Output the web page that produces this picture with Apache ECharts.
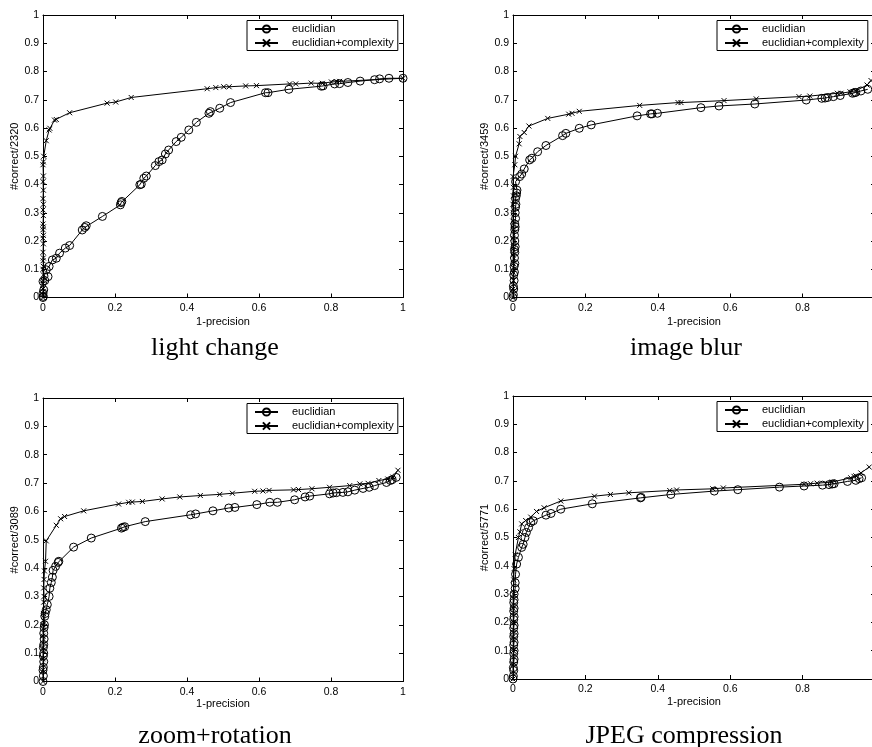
<!DOCTYPE html>
<html><head><meta charset="utf-8">
<script src="https://cdn.jsdelivr.net/npm/echarts@6/dist/echarts.min.js"></script>
<style>html,body{margin:0;padding:0;background:#fff}#c{width:872px;height:747px}</style>
</head><body><div id="c"></div>
<script>
// ---- data ----
const captions = ['light change', 'image blur', 'zoom+rotation', 'JPEG compression'];
const yNames = ['#correct/2320', '#correct/3459', '#correct/3089', '#correct/5771'];
const xName = '1-precision';
const seriesNames = ['euclidian', 'euclidian+complexity'];
const xTickStep = 0.2;
const yTickStep = 0.1;

const lightEuc = [[0,0],[0.001,0.004],[0,0.015],[0.002,0.027],[0,0.057],[0.005,0.06],[0.014,0.074],[0.009,0.098],[0.017,0.11],[0.026,0.133],[0.037,0.139],[0.046,0.157],[0.062,0.175],[0.074,0.184],[0.109,0.239],[0.116,0.248],[0.12,0.254],[0.165,0.287],[0.215,0.328],[0.217,0.336],[0.219,0.34],[0.269,0.399],[0.273,0.401],[0.28,0.422],[0.287,0.43],[0.312,0.467],[0.322,0.481],[0.331,0.487],[0.34,0.508],[0.349,0.522],[0.37,0.552],[0.384,0.567],[0.405,0.593],[0.426,0.62],[0.461,0.652],[0.465,0.658],[0.491,0.67],[0.521,0.69],[0.618,0.725],[0.625,0.725],[0.683,0.737],[0.773,0.748],[0.778,0.749],[0.81,0.756],[0.824,0.757],[0.847,0.761],[0.881,0.766],[0.921,0.771],[0.935,0.774],[0.961,0.776],[1.0,0.776]];
const lightCx = [[0,0],[0,0.01],[0.001,0.02],[0,0.03],[0.001,0.05],[0,0.06],[0.001,0.08],[0,0.1],[0.001,0.11],[0,0.13],[0.001,0.14],[0,0.16],[0.001,0.19],[0,0.21],[0.001,0.22],[0,0.24],[0.001,0.25],[0,0.26],[0.001,0.29],[0,0.31],[0.001,0.33],[0,0.35],[0.001,0.38],[0,0.41],[0.001,0.43],[0,0.47],[0.001,0.48],[0.002,0.5],[0.009,0.555],[0.017,0.593],[0.019,0.599],[0.032,0.628],[0.037,0.63],[0.074,0.654],[0.178,0.688],[0.202,0.692],[0.245,0.708],[0.456,0.739],[0.48,0.743],[0.502,0.746],[0.517,0.746],[0.563,0.749],[0.593,0.75],[0.685,0.756],[0.702,0.756],[0.745,0.759],[0.776,0.758],[0.801,0.763],[0.815,0.764],[0.824,0.765],[1.0,0.776]];

const blurEuc = [[0,0],[0.001,0.01],[0.002,0.03],[0.001,0.04],[0.003,0.06],[0.002,0.08],[0.004,0.09],[0.003,0.11],[0.005,0.12],[0.004,0.14],[0.005,0.16],[0.004,0.17],[0.006,0.18],[0.005,0.2],[0.004,0.22],[0.005,0.24],[0.006,0.25],[0.005,0.26],[0.007,0.28],[0.006,0.3],[0.007,0.32],[0.008,0.33],[0.007,0.35],[0.009,0.36],[0.01,0.37],[0.011,0.38],[0.007,0.41],[0.0185,0.428],[0.024,0.437],[0.031,0.455],[0.046,0.487],[0.052,0.493],[0.068,0.516],[0.091,0.538],[0.137,0.573],[0.146,0.581],[0.183,0.599],[0.216,0.611],[0.343,0.643],[0.38,0.65],[0.384,0.65],[0.399,0.652],[0.519,0.672],[0.569,0.678],[0.668,0.685],[0.81,0.699],[0.853,0.705],[0.862,0.706],[0.869,0.708],[0.885,0.711],[0.904,0.715],[0.938,0.723],[0.943,0.725],[0.947,0.726],[0.961,0.731],[0.98,0.737]];
const blurCx = [[0,0],[0,0.03],[0.001,0.06],[0,0.09],[0.001,0.12],[0,0.15],[0.001,0.18],[0,0.21],[0.001,0.24],[0,0.27],[0.001,0.3],[0,0.33],[0.001,0.36],[0.001,0.39],[0,0.428],[0.005,0.47],[0.007,0.5],[0.017,0.544],[0.019,0.57],[0.031,0.584],[0.044,0.607],[0.096,0.634],[0.154,0.649],[0.163,0.652],[0.183,0.659],[0.35,0.68],[0.456,0.69],[0.464,0.69],[0.583,0.697],[0.672,0.703],[0.79,0.711],[0.82,0.713],[0.896,0.723],[0.906,0.723],[0.931,0.728],[0.947,0.732],[0.978,0.752],[0.989,0.768]];

const zoomEuc = [[0,0],[0.001,0.02],[0,0.04],[0.001,0.05],[0.002,0.07],[0.001,0.09],[0.002,0.1],[0.001,0.12],[0.002,0.13],[0.003,0.15],[0.002,0.17],[0.003,0.19],[0.004,0.2],[0.005,0.23],[0.006,0.24],[0.009,0.253],[0.012,0.271],[0.017,0.3],[0.019,0.329],[0.023,0.349],[0.026,0.368],[0.028,0.392],[0.035,0.406],[0.042,0.42],[0.044,0.424],[0.085,0.474],[0.134,0.506],[0.218,0.541],[0.222,0.544],[0.227,0.546],[0.284,0.564],[0.41,0.588],[0.424,0.591],[0.472,0.602],[0.516,0.612],[0.533,0.614],[0.594,0.624],[0.63,0.632],[0.651,0.632],[0.699,0.641],[0.728,0.651],[0.741,0.654],[0.796,0.662],[0.806,0.665],[0.815,0.666],[0.833,0.667],[0.847,0.669],[0.866,0.675],[0.889,0.681],[0.906,0.685],[0.921,0.691],[0.954,0.702],[0.965,0.709],[0.97,0.712],[0.981,0.72]];
const zoomCx = [[0,0],[0,0.04],[0,0.08],[0,0.12],[0,0.16],[0,0.2],[0.001,0.24],[0.002,0.28],[0.003,0.3],[0.002,0.33],[0.003,0.36],[0.004,0.39],[0.007,0.424],[0.009,0.496],[0.037,0.551],[0.049,0.574],[0.06,0.582],[0.113,0.602],[0.21,0.626],[0.238,0.632],[0.248,0.633],[0.276,0.635],[0.331,0.644],[0.38,0.651],[0.437,0.656],[0.491,0.66],[0.526,0.664],[0.588,0.671],[0.611,0.672],[0.628,0.674],[0.696,0.676],[0.71,0.677],[0.747,0.68],[0.796,0.685],[0.852,0.691],[0.88,0.697],[0.903,0.699],[0.933,0.709],[0.958,0.714],[0.972,0.721],[0.986,0.745]];

const jpegEuc = [[0,0],[0.001,0.01],[0.002,0.03],[0.001,0.04],[0.002,0.06],[0.003,0.07],[0.002,0.09],[0.003,0.1],[0.002,0.12],[0.003,0.13],[0.002,0.15],[0.003,0.16],[0.002,0.18],[0.003,0.19],[0.002,0.21],[0.003,0.22],[0.002,0.24],[0.003,0.25],[0.002,0.27],[0.003,0.28],[0.003,0.3],[0.006,0.32],[0.006,0.34],[0.007,0.37],[0.01,0.406],[0.015,0.43],[0.024,0.465],[0.028,0.476],[0.033,0.5],[0.037,0.518],[0.043,0.535],[0.049,0.553],[0.056,0.559],[0.091,0.579],[0.105,0.585],[0.132,0.6],[0.219,0.619],[0.352,0.64],[0.354,0.642],[0.436,0.652],[0.556,0.664],[0.621,0.669],[0.736,0.678],[0.804,0.682],[0.855,0.685],[0.873,0.687],[0.882,0.689],[0.887,0.69],[0.924,0.698],[0.947,0.702],[0.956,0.708],[0.963,0.711]];
const jpegCx = [[0,0],[0,0.05],[0.001,0.1],[0,0.15],[0.001,0.2],[0,0.25],[0.001,0.3],[0.002,0.35],[0.003,0.39],[0.006,0.44],[0.015,0.5],[0.019,0.52],[0.024,0.548],[0.035,0.56],[0.049,0.572],[0.065,0.592],[0.086,0.605],[0.132,0.629],[0.225,0.646],[0.269,0.652],[0.32,0.658],[0.433,0.666],[0.452,0.668],[0.552,0.672],[0.581,0.675],[0.804,0.688],[0.822,0.69],[0.84,0.692],[0.882,0.696],[0.933,0.711],[0.942,0.716],[0.947,0.718],[0.961,0.728],[0.984,0.749]];

const eucData = [lightEuc, blurEuc, zoomEuc, jpegEuc];
const cxData = [lightCx, blurCx, zoomCx, jpegCx];

// ---- layout / style ----
const SANS = '"Liberation Sans", Arial, Helvetica, sans-serif';
const SERIF = '"Liberation Serif", "Times New Roman", serif';
const grids = [
  {left: 43, top: 15, width: 360, height: 282.5},
  {left: 513, top: 15, width: 362, height: 282.5},
  {left: 43, top: 398, width: 360, height: 283.5},
  {left: 513, top: 396, width: 362, height: 283}
];
const captionPos = [[215, 348], [686, 348], [215, 736], [684, 736]];
const xNameGap = [19, 19, 17, 17];

const axisLine = {show: true, onZero: false, lineStyle: {color: '#000', width: 1}};
const axisTick = {show: true, inside: true, length: 4, lineStyle: {color: '#000', width: 1}};
const labelStyle = {color: '#000', fontSize: 10.5, fontFamily: SANS};

const xAxis = [], yAxis = [], series = [], legend = [], graphic = [];
grids.forEach((g, i) => {
  xAxis.push({
    gridIndex: i, type: 'value', min: 0, max: 1, interval: xTickStep, position: 'bottom',
    name: xName, nameLocation: 'middle', nameGap: xNameGap[i],
    nameTextStyle: {color: '#000', fontSize: 11, fontFamily: SANS},
    axisLine, axisTick, axisLabel: Object.assign({margin: 5}, labelStyle), splitLine: {show: false}
  });
  xAxis.push({
    gridIndex: i, type: 'value', min: 0, max: 1, interval: xTickStep, position: 'top',
    axisLine, axisTick, axisLabel: {show: false}, splitLine: {show: false}
  });
  yAxis.push({
    gridIndex: i, type: 'value', min: 0, max: 1, interval: yTickStep, position: 'left',
    name: yNames[i], nameLocation: 'middle', nameGap: 23,
    nameTextStyle: {color: '#000', fontSize: 11, fontFamily: SANS},
    axisLine, axisTick, axisLabel: Object.assign({margin: 4}, labelStyle), splitLine: {show: false}
  });
  yAxis.push({
    gridIndex: i, type: 'value', min: 0, max: 1, interval: yTickStep, position: 'right',
    axisLine, axisTick, axisLabel: {show: false}, splitLine: {show: false}
  });
  series.push({
    type: 'line', name: seriesNames[0], xAxisIndex: 2 * i, yAxisIndex: 2 * i,
    data: eucData[i], symbol: 'circle', symbolSize: 8, showAllSymbol: true,
    itemStyle: {color: 'rgba(0,0,0,0)', borderColor: '#000', borderWidth: 1},
    lineStyle: {color: '#000', width: 1}, emphasis: {disabled: true}, z: 2
  });
  series.push({
    type: 'line', name: seriesNames[1], xAxisIndex: 2 * i, yAxisIndex: 2 * i,
    data: cxData[i], symbol: 'path://M0,0L10,10M10,0L0,10', symbolSize: 5, showAllSymbol: true,
    itemStyle: {color: 'rgba(0,0,0,0)', borderColor: '#000', borderWidth: 1},
    lineStyle: {color: '#000', width: 1}, emphasis: {disabled: true}, z: 3
  });
  legend.push({
    left: g.left + 204, top: g.top + 5.5, orient: 'vertical', data: seriesNames.slice(),
    backgroundColor: '#fff', borderColor: '#000', borderWidth: 1, borderRadius: 0,
    padding: [3, 4, 2, 7], itemGap: 3, itemWidth: 23, itemHeight: 9,
    selectedMode: false,
    textStyle: {color: '#000', fontSize: 11, fontFamily: SANS, padding: [0, 0, 0, 9]}
  });
  graphic.push({
    type: 'text', x: captionPos[i][0], y: captionPos[i][1], silent: true,
    style: {text: captions[i], fill: '#000', fontSize: 26, fontFamily: SERIF, align: 'center', verticalAlign: 'middle'}
  });
});

const chart = echarts.init(document.getElementById('c'), null, {renderer: 'canvas'});
chart.setOption({
  animation: false,
  backgroundColor: '#fff',
  grid: grids.map(g => Object.assign({containLabel: false, outerBoundsMode: 'none'}, g)),
  xAxis, yAxis, series, legend, graphic
});
</script>
</body></html>
